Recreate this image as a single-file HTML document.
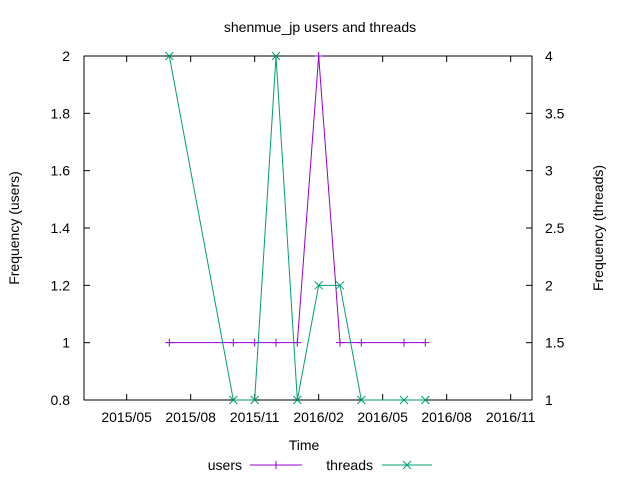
<!DOCTYPE html>
<html><head><meta charset="utf-8"><style>
body{margin:0;background:#fff}
svg text{font-family:"Liberation Sans",sans-serif;font-size:14px;fill:#000}
</style></head><body>
<svg width="640" height="480">
<text x="320" y="32" text-anchor="middle">shenmue_jp users and threads</text>
<rect x="84" y="56" width="448" height="344" fill="none" stroke="#000"/>
<g id="ticks"></g>
<text x="304" y="450" text-anchor="middle">Time</text>
<text transform="translate(19,228) rotate(-90)" text-anchor="middle">Frequency (users)</text>
<text transform="translate(603,228) rotate(-90)" text-anchor="middle">Frequency (threads)</text>
<g id="series"></g>
<g>
<text x="242" y="470" text-anchor="end">users</text>
<line x1="250" y1="465" x2="302" y2="465" stroke="#9400d3"/>
<text x="373" y="470" text-anchor="end">threads</text>
<line x1="382" y1="465" x2="432" y2="465" stroke="#009e73"/>
</g>
</svg>
<script>
const months=[2,5,6,7,8,9,10,11,13,14]; // month index from 2015/05
const users=[1,1,1,1,1,2,1,1,1,1];
const threads=[4,1,1,4,1,2,2,1,1,1];
const xTickIdx=[0,3,6,9,12,15,18];
const xTickLabels=["2015/05","2015/08","2015/11","2016/02","2016/05","2016/08","2016/11"];
const yTicks=[0.8,1,1.2,1.4,1.6,1.8,2];
const y2Ticks=[1,1.5,2,2.5,3,3.5,4];
const NS="http://www.w3.org/2000/svg";
const X=m=>84+(m+2)*448/21;
const Y=v=>400-(v-0.8)/1.2*344;
const Y2=v=>400-(v-1)/3*344;
const tg=document.getElementById('ticks'),sg=document.getElementById('series');
function mk(tag,a,p){const e=document.createElementNS(NS,tag);for(const k in a)e.setAttribute(k,a[k]);p.appendChild(e);return e;}
xTickIdx.forEach((m,i)=>{const x=X(m);
 mk('path',{d:`M${x},400v-6M${x},56v6`,stroke:'#000'},tg);
 const t=mk('text',{x:x,y:422,'text-anchor':'middle'},tg);t.textContent=xTickLabels[i];
 
 });
yTicks.forEach(v=>{const y=Y(v);
 mk('path',{d:`M84,${y}h6`,stroke:'#000'},tg);
 const t=mk('text',{x:70,y:y+5,'text-anchor':'end'},tg);t.textContent=(Math.round(v*10)/10).toString();
 
 });
y2Ticks.forEach(v=>{const y=Y2(v);
 mk('path',{d:`M532,${y}h-6`,stroke:'#000'},tg);
 const t=mk('text',{x:545,y:y+5,'text-anchor':'start'},tg);t.textContent=v.toString();
 
 });
function series(vals,fy,col,name,cross){
 const pts=months.map((m,i)=>[X(m),fy(vals[i])]);
 const l=mk('polyline',{points:pts.map(p=>p.join(',')).join(' '),fill:'none',stroke:col},sg);
 
 
 pts.forEach(p=>{const d=cross?`M${p[0]-4},${p[1]-4}l8,8M${p[0]-4},${p[1]+4}l8,-8`:`M${p[0]-4},${p[1]}h8M${p[0]},${p[1]-4}v8`;
  const e=mk('path',{d:d,stroke:col},sg);
  
  });
}
series(users,Y,'#9400d3','users',false);
series(threads,Y2,'#009e73','threads',true);
mk('path',{d:'M272,465h8M276,461v8',stroke:'#9400d3'},sg);
mk('path',{d:'M403,461l8,8M403,469l8,-8',stroke:'#009e73'},sg);
</script>
</body></html>
